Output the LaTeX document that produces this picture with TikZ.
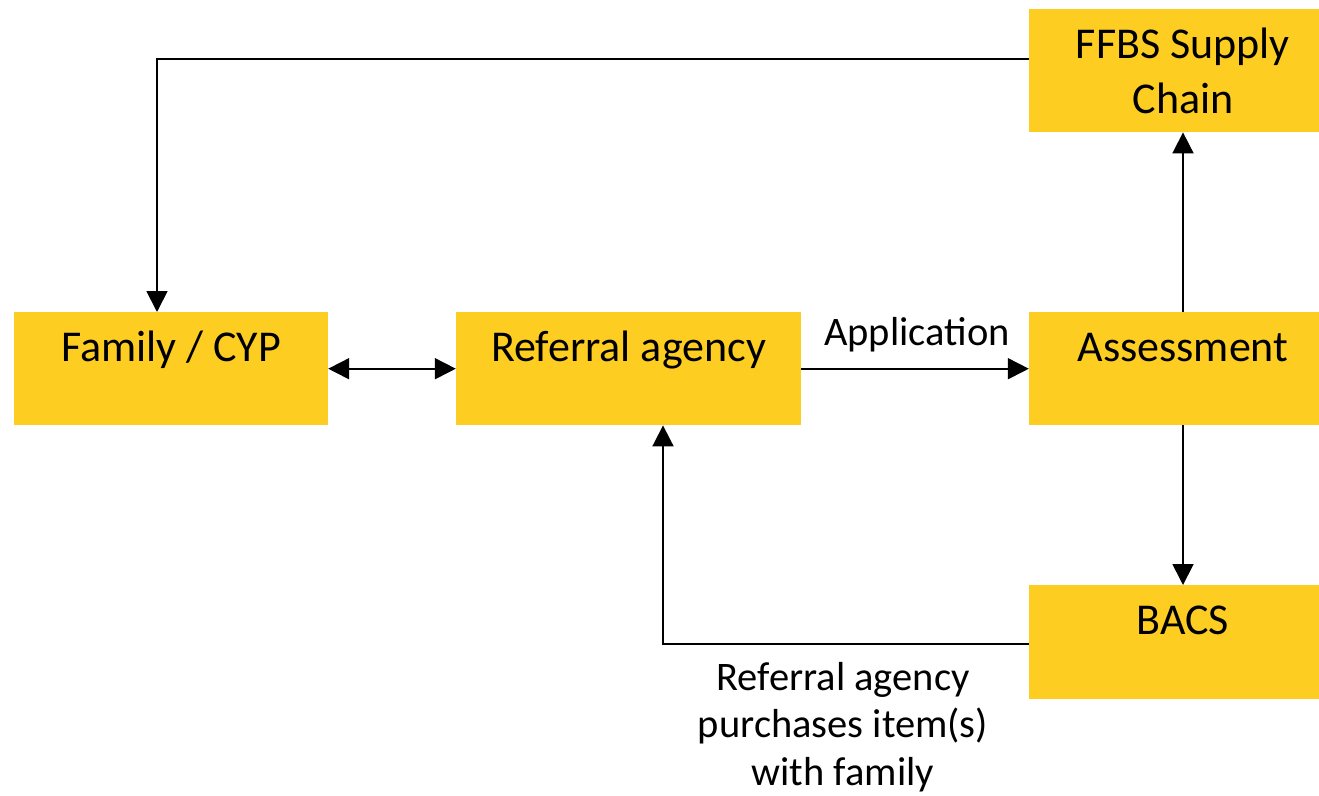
\documentclass[tikz,border=0pt]{standalone}
\usepackage{fontspec}
\setmainfont{Carlito}
\usetikzlibrary{arrows.meta}
\definecolor{boxgold}{RGB}{253,205,33}
\newcommand\bxfont{\fontsize{44}{55}\selectfont}
\newcommand\lbfont{\fontsize{40.5}{47.5}\selectfont}
\tikzset{
  box/.style={fill=boxgold, inner sep=0pt, anchor=north, text width=#1, align=flush center, font=\bxfont},
  onebox/.style={box=#1, text height=49pt, text depth=64pt},
  arr/.style={-{Triangle[length=21pt,width=21pt]}, line width=1.8pt},
  darr/.style={{Triangle[length=21pt,width=21pt]}-{Triangle[length=21pt,width=21pt]}, line width=1.8pt},
  lbl/.style={font=\lbfont, inner sep=0pt, align=center}
}
\begin{document}
\begin{tikzpicture}[x=1pt,y=-1pt]
\useasboundingbox (0,0) rectangle (1319,795);
\clip (0,0) rectangle (1319,795);
% boxes
\node[box=308pt, minimum height=123pt, yshift=-2pt] (ffbs) at (1183,7) {FFBS Supply\\Chain};
\node[onebox=314pt] (fam) at (171,312) {Family / CYP};
\node[onebox=345pt] (ref) at (628.5,312) {Referral agency};
\node[onebox=308pt] (ass) at (1183,312) {Assessment};
\node[box=308pt, text height=49pt, text depth=65pt] (bacs) at (1183,585) {BACS};
% labels
\node[lbl, anchor=base] (app) at (917,345) {Application};
\node[lbl, anchor=north] (purch) at (843,662) {Referral agency\\purchases item(s)\\with family};
% connectors
\coordinate (c1) at (157,59);
\coordinate (c2) at (663,644);
\draw[arr] (ffbs.west |- c1) -| (fam.north -| c1);
\draw[darr] (fam.east) -- (ref.west);
\draw[arr] (ref.east) -- (ass.west);
\draw[arr] (ass.north) -- (ffbs.south);
\draw[arr] (ass.south) -- (bacs.north);
\draw[arr] (bacs.west |- c2) -| (ref.south -| c2);
\end{tikzpicture}
\end{document}
